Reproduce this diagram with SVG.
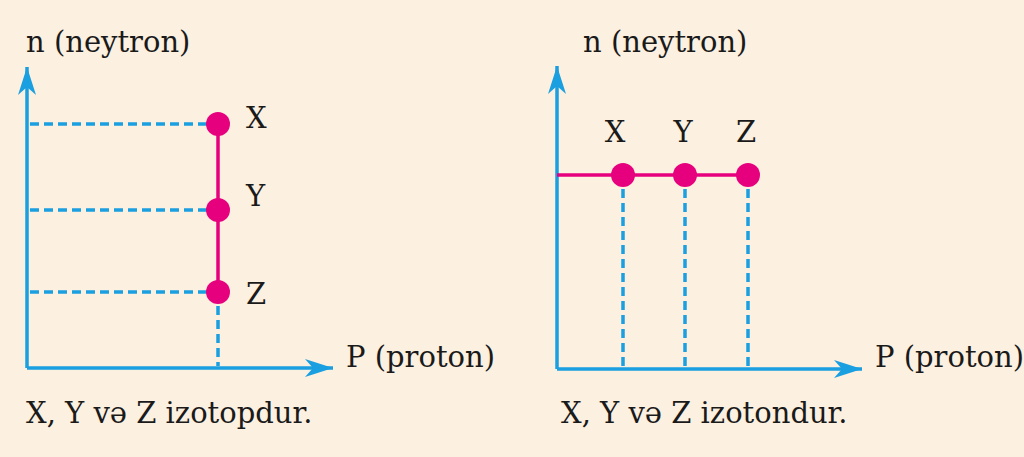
<svg xmlns="http://www.w3.org/2000/svg" width="1024" height="457" viewBox="0 0 1024 457">
<style>
.t{font-family:"DejaVu Serif","Liberation Serif",serif;font-size:29px;fill:#1a1a1a}
.ax{stroke:#1a9fe0;stroke-width:3.5;fill:none}
.dash{stroke:#1a9fe0;stroke-width:3.5;stroke-dasharray:9,5;fill:none}
.mg{stroke:#e6007e;stroke-width:3.5;fill:none}
.dot{fill:#e6007e}
</style>
<defs>
<marker id="ar" viewBox="0 0 28 18" refX="28" refY="9" markerWidth="28" markerHeight="18" markerUnits="userSpaceOnUse" orient="auto">
<path d="M0,0 L28,9 L0,18 L8,9 Z" fill="#1a9fe0"/>
</marker>
</defs>
<rect width="1024" height="457" fill="#fcf0e0"/>
<g id="connectors">
<path class="ax" d="M27,368 L27,67" marker-end="url(#ar)"/>
<path class="ax" d="M27,368 L333,368" marker-end="url(#ar)"/>
<path class="dash" d="M30,124 H218 M30,210 H218 M30,292 H218 M218,292 V366"/>
<path class="mg" d="M218,124 V292"/>
<path class="ax" d="M557,369 L557,66" marker-end="url(#ar)"/>
<path class="ax" d="M557,369 L862,369" marker-end="url(#ar)"/>
<path class="dash" d="M623,175 V367 M685,175 V367 M748,175 V367"/>
<path class="mg" d="M557,175 H748"/>
</g>
<g id="left-axes-labels">
<text class="t" x="26" y="52">n (neytron)</text>
<text class="t" x="346" y="367">P (proton)</text>
<text class="t" x="26" y="423">X, Y və Z izotopdur.</text>
</g>
<g id="left-X"><circle class="dot" cx="218" cy="124" r="12"/><text class="t" x="246" y="128">X</text></g>
<g id="left-Y"><circle class="dot" cx="218" cy="210" r="12"/><text class="t" x="246" y="206">Y</text></g>
<g id="left-Z"><circle class="dot" cx="218" cy="292" r="12"/><text class="t" x="246" y="304">Z</text></g>
<g id="right-axes-labels">
<text class="t" x="583" y="52">n (neytron)</text>
<text class="t" x="875" y="367">P (proton)</text>
<text class="t" x="561" y="423">X, Y və Z izotondur.</text>
</g>
<g id="right-X"><circle class="dot" cx="623" cy="175" r="12"/><text class="t" x="615" y="142" text-anchor="middle">X</text></g>
<g id="right-Y"><circle class="dot" cx="685" cy="175" r="12"/><text class="t" x="683" y="142" text-anchor="middle">Y</text></g>
<g id="right-Z"><circle class="dot" cx="748" cy="175" r="12"/><text class="t" x="746" y="142" text-anchor="middle">Z</text></g>
</svg>
